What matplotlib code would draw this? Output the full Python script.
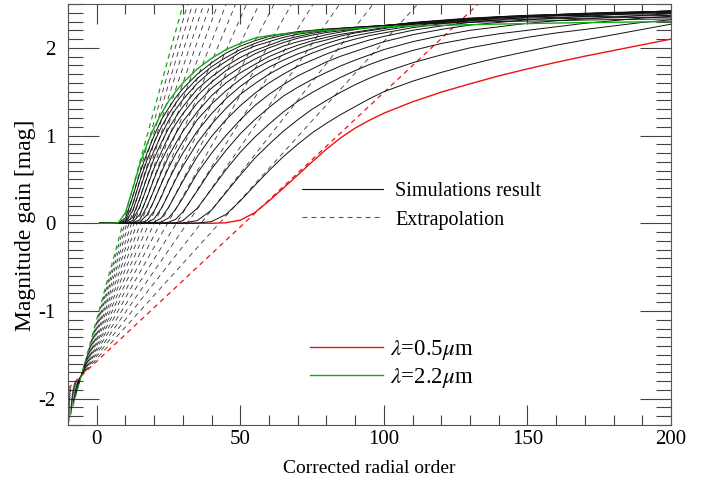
import matplotlib
matplotlib.use("Agg")
import matplotlib.pyplot as plt
from matplotlib.lines import Line2D
from matplotlib.ticker import MultipleLocator

plt.rcParams['font.family'] = ['Liberation Serif', 'DejaVu Serif']
plt.rcParams['mathtext.fontset'] = 'stix'
plt.rcParams['lines.scale_dashes'] = False
plt.rcParams['axes.unicode_minus'] = False

# corrected radial order grid of the simulation curves
order = [1, 5, 7.5, 10, 12.5, 15, 17.5, 20, 22.5, 25, 27.5, 30, 35, 40, 45, 50,
         55, 60, 65, 70, 75, 80, 85, 90, 95, 100, 110, 120, 130, 140, 150, 160,
         170, 180, 190, 200]

wavelengths = [0.5, 0.6, 0.7, 0.8, 0.9, 1.0, 1.1, 1.2, 1.3, 1.4, 1.5, 1.6, 1.7,
               1.8, 1.9, 2.0, 2.1, 2.2]

gain_0p5 = [0, 0, 0, 0, 0, 0, 0, 0, 0, 0, 0, 0, 0, 0, 0.006, 0.035, 0.12, 0.255,
            0.40, 0.55, 0.70, 0.845, 0.975, 1.085, 1.175, 1.255, 1.385, 1.495,
            1.59, 1.68, 1.76, 1.835, 1.905, 1.97, 2.035, 2.10]
gain_0p6 = [0, 0, 0, 0, 0, 0, 0, 0, 0, 0, 0, 0, 0.002, 0.02, 0.10, 0.255, 0.43,
            0.60, 0.76, 0.90, 1.03, 1.14, 1.24, 1.33, 1.42, 1.50, 1.62, 1.72,
            1.81, 1.89, 1.96, 2.03, 2.09, 2.15, 2.21, 2.27]
gain_0p7 = [0, 0, 0, 0, 0, 0, 0, 0, 0, 0, 0, 0.003, 0.03, 0.15, 0.35, 0.55, 0.74,
            0.90, 1.05, 1.18, 1.30, 1.40, 1.495, 1.58, 1.655, 1.72, 1.83, 1.92,
            2.00, 2.06, 2.12, 2.17, 2.21, 2.25, 2.29, 2.32]
gain_0p8 = [0, 0, 0, 0, 0, 0, 0, 0, 0.001, 0.002, 0.006, 0.03, 0.17, 0.39, 0.61,
            0.81, 0.98, 1.13, 1.27, 1.39, 1.49, 1.58, 1.665, 1.74, 1.81, 1.87,
            1.97, 2.05, 2.11, 2.16, 2.20, 2.24, 2.28, 2.31, 2.34, 2.36]
gain_0p9 = [0, 0, 0, 0, 0, 0, 0, 0.001, 0.003, 0.012, 0.045, 0.13, 0.37, 0.62,
            0.83, 1.02, 1.18, 1.32, 1.45, 1.55, 1.64, 1.72, 1.795, 1.86, 1.92,
            1.98, 2.07, 2.14, 2.20, 2.24, 2.28, 2.31, 2.33, 2.35, 2.37, 2.39]
gain_1p0 = [0, 0, 0, 0, 0, 0, 0.001, 0.003, 0.015, 0.06, 0.16, 0.29, 0.57, 0.80,
            1.00, 1.18, 1.34, 1.47, 1.58, 1.68, 1.76, 1.84, 1.905, 1.96, 2.015,
            2.07, 2.15, 2.21, 2.26, 2.29, 2.32, 2.34, 2.36, 2.38, 2.40, 2.41]
gain_1p1 = [0, 0, 0, 0, 0, 0.001, 0.002, 0.013, 0.06, 0.18, 0.33, 0.48, 0.76,
            0.99, 1.18, 1.34, 1.48, 1.60, 1.70, 1.79, 1.86, 1.93, 1.99, 2.04,
            2.09, 2.13, 2.20, 2.25, 2.29, 2.32, 2.35, 2.365, 2.38, 2.395, 2.41,
            2.42]
gain_1p2 = [0, 0, 0, 0, 0, 0.001, 0.008, 0.05, 0.17, 0.33, 0.50, 0.65, 0.915,
            1.13, 1.31, 1.47, 1.59, 1.70, 1.79, 1.87, 1.94, 2.00, 2.055, 2.10,
            2.14, 2.17, 2.23, 2.275, 2.31, 2.34, 2.36, 2.375, 2.39, 2.40, 2.41,
            2.42]
gain_1p3 = [0, 0, 0, 0, 0.001, 0.004, 0.03, 0.14, 0.30, 0.49, 0.65, 0.80, 1.05,
            1.25, 1.42, 1.56, 1.68, 1.78, 1.86, 1.93, 1.99, 2.05, 2.10, 2.14,
            2.17, 2.20, 2.25, 2.29, 2.32, 2.345, 2.365, 2.38, 2.39, 2.40, 2.41,
            2.42]
gain_1p4 = [0, 0, 0, 0, 0.002, 0.014, 0.095, 0.26, 0.45, 0.63, 0.79, 0.93, 1.18,
            1.36, 1.51, 1.64, 1.76, 1.85, 1.92, 1.99, 2.05, 2.09, 2.135, 2.17,
            2.195, 2.22, 2.27, 2.30, 2.33, 2.355, 2.37, 2.38, 2.395, 2.405, 2.41,
            2.42]
gain_1p5 = [0, 0, 0, 0.001, 0.004, 0.04, 0.19, 0.38, 0.58, 0.76, 0.91, 1.05, 1.27,
            1.455, 1.60, 1.715, 1.81, 1.90, 1.97, 2.03, 2.08, 2.12, 2.155, 2.18,
            2.205, 2.23, 2.27, 2.305, 2.33, 2.35, 2.365, 2.375, 2.385, 2.395,
            2.40, 2.41]
gain_1p6 = [0, 0, 0, 0.001, 0.012, 0.10, 0.29, 0.51, 0.71, 0.87, 1.02, 1.16, 1.37,
            1.54, 1.67, 1.78, 1.87, 1.95, 2.02, 2.07, 2.11, 2.15, 2.18, 2.21,
            2.23, 2.25, 2.29, 2.315, 2.34, 2.355, 2.37, 2.38, 2.39, 2.395, 2.405,
            2.41]
gain_1p7 = [0, 0, 0, 0.002, 0.03, 0.19, 0.41, 0.63, 0.81, 0.99, 1.13, 1.25, 1.455,
            1.61, 1.74, 1.84, 1.93, 2.00, 2.06, 2.11, 2.145, 2.175, 2.195, 2.215,
            2.235, 2.25, 2.285, 2.31, 2.335, 2.35, 2.36, 2.37, 2.38, 2.39, 2.395,
            2.40]
gain_1p8 = [0, 0, 0.001, 0.005, 0.07, 0.28, 0.52, 0.74, 0.92, 1.08, 1.21, 1.33,
            1.53, 1.67, 1.79, 1.89, 1.97, 2.03, 2.09, 2.13, 2.165, 2.19, 2.21,
            2.225, 2.24, 2.255, 2.285, 2.31, 2.33, 2.345, 2.355, 2.365, 2.37,
            2.38, 2.385, 2.39]
gain_1p9 = [0, 0, 0.001, 0.014, 0.14, 0.38, 0.63, 0.83, 1.01, 1.17, 1.30, 1.41,
            1.595, 1.74, 1.845, 1.95, 2.02, 2.07, 2.12, 2.155, 2.18, 2.20, 2.215,
            2.23, 2.243, 2.255, 2.28, 2.30, 2.315, 2.33, 2.34, 2.348, 2.355, 2.36,
            2.365, 2.37]
gain_2p0 = [0, 0, 0.002, 0.03, 0.21, 0.48, 0.72, 0.92, 1.10, 1.24, 1.37, 1.475,
            1.65, 1.785, 1.89, 1.98, 2.05, 2.105, 2.145, 2.175, 2.195, 2.21, 2.222,
            2.235, 2.245, 2.255, 2.275, 2.29, 2.305, 2.315, 2.325, 2.332, 2.338,
            2.343, 2.347, 2.35]
gain_2p1 = [0, 0, 0.003, 0.06, 0.30, 0.57, 0.80, 1.00, 1.18, 1.31, 1.435, 1.535,
            1.70, 1.83, 1.94, 2.02, 2.08, 2.13, 2.16, 2.185, 2.20, 2.215, 2.225,
            2.235, 2.245, 2.255, 2.27, 2.28, 2.29, 2.30, 2.305, 2.31, 2.317, 2.322,
            2.326, 2.33]
gain_2p2 = [0, 0, 0.005, 0.12, 0.39, 0.67, 0.90, 1.09, 1.25, 1.39, 1.50, 1.60,
            1.76, 1.88, 1.98, 2.05, 2.11, 2.14, 2.16, 2.17, 2.19, 2.20, 2.21, 2.22,
            2.23, 2.24, 2.25, 2.257, 2.264, 2.271, 2.277, 2.283, 2.288, 2.292,
            2.296, 2.30]

gains = [gain_0p5, gain_0p6, gain_0p7, gain_0p8, gain_0p9, gain_1p0, gain_1p1,
         gain_1p2, gain_1p3, gain_1p4, gain_1p5, gain_1p6, gain_1p7, gain_1p8,
         gain_1p9, gain_2p0, gain_2p1, gain_2p2]

# extrapolation lines: zero crossing (radial order) and slope (mag per order)
ext_zero = [51.34, 42.70, 36.34, 31.54, 27.76, 24.69, 22.17, 20.05, 18.25, 16.67,
            15.33, 14.13, 13.06, 12.12, 11.26, 10.52, 9.83, 9.17]
ext_slope = [0.03066, 0.03618, 0.04169, 0.04711, 0.05248, 0.05784, 0.06310,
             0.06839, 0.07361, 0.07881, 0.08396, 0.08908, 0.09422, 0.09930,
             0.10443, 0.10928, 0.11429, 0.11944]

RED = '#ee1111'
GREEN = '#11aa11'
BLACK = '#111111'
DASH = (3.5, 3.0)

fig = plt.figure(figsize=(7.08, 4.84), dpi=100)
ax = fig.add_axes([68/708, 1-425/484, 603/708, 421/484])

n = len(wavelengths)
def color_of(i):
    if i == 0:
        return RED
    if i == n - 1:
        return GREEN
    return BLACK

# dashed extrapolations (black first, then red, green on top)
for i in list(range(1, n - 1)) + [0, n - 1]:
    c = color_of(i)
    lw = 0.6 if c == BLACK else 0.9
    ax.axline((ext_zero[i], 0.0), slope=ext_slope[i], color=c, lw=lw,
              dashes=DASH, alpha=0.85 if c == BLACK else 1.0, zorder=2)

# solid simulation results: red below black, green on top
for i in [0] + list(range(1, n - 1)) + [n - 1]:
    c = color_of(i)
    lw = 0.7 if c == BLACK else 1.0
    ax.plot(order, gains[i], color=c, lw=lw, zorder=3 if c != GREEN else 4)

ax.set_xlim(-10, 200)
ax.set_ylim(-2.3, 2.5)
ax.xaxis.set_major_locator(MultipleLocator(50))
ax.xaxis.set_minor_locator(MultipleLocator(10))
ax.yaxis.set_major_locator(MultipleLocator(1))
ax.yaxis.set_minor_locator(MultipleLocator(0.1))
ax.tick_params(which='both', direction='in', top=True, right=True,
               color='#444444', width=0.8, labelsize=15)
ax.tick_params(axis='x', which='major', length=14.5, pad=3.5)
ax.tick_params(axis='x', which='minor', length=7)
ax.tick_params(axis='y', which='major', length=22, pad=9)
ax.tick_params(axis='y', which='minor', length=11)
for s in ax.spines.values():
    s.set_color('#555555')
    s.set_linewidth(0.8)

ax.set_xlabel('Corrected radial order', fontsize=14, labelpad=8)
ax.set_ylabel('Magnitude gain [mag]', fontsize=17)
ax.yaxis.set_label_coords(-0.053, 0.475)

h1 = [Line2D([], [], color=BLACK, lw=0.8),
      Line2D([], [], color='#555555', lw=0.8, dashes=DASH)]
leg1 = ax.legend(h1, ['Simulations result', 'Extrapolation'], frameon=False,
                 fontsize=14.5, loc='upper left', bbox_to_anchor=(0.388, 0.577),
                 handlelength=4.03, handletextpad=0.6, labelspacing=0.46,
                 borderaxespad=0, borderpad=0)
ax.add_artist(leg1)
h2 = [Line2D([], [], color=RED, lw=1.0), Line2D([], [], color=GREEN, lw=1.0)]
ax.legend(h2, [r'$\lambda$=0.5$\mu$m', r'$\lambda$=2.2$\mu$m'], frameon=False,
          fontsize=16.5, loc='upper left', bbox_to_anchor=(0.401, 0.206),
          handlelength=3.19, handletextpad=0.3, labelspacing=0.17,
          borderaxespad=0, borderpad=0)

fig.savefig('out.png', dpi=100)
